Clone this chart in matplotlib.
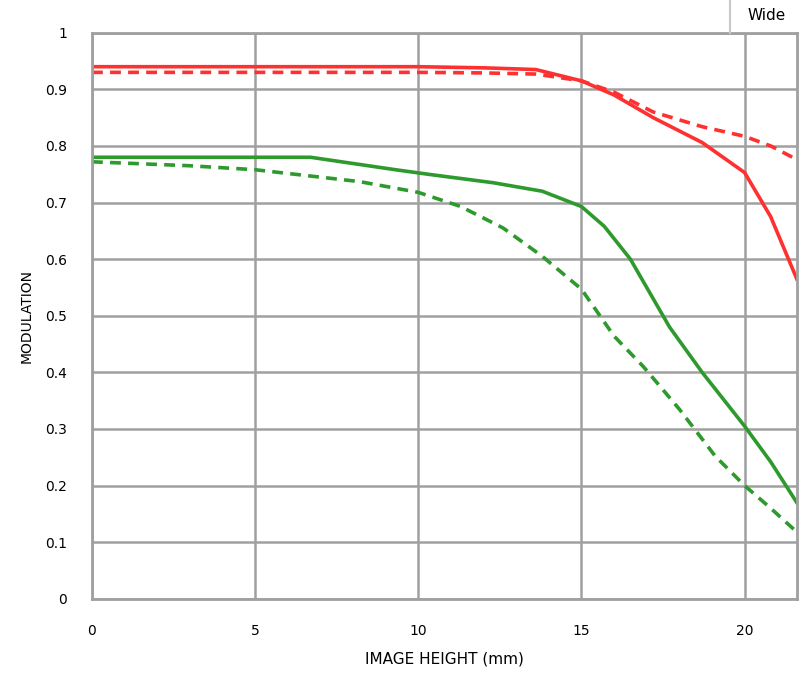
import numpy as np
from matplotlib import pyplot as plt
from matplotlib.lines import Line2D

# image height (mm) and MTF readings
x_red = [0, 2, 4, 6, 8, 10, 12, 13.6, 15, 16, 17.2, 18.7, 20, 20.8, 21.6]
red_solid = [0.94, 0.94, 0.94, 0.94, 0.94, 0.94, 0.938, 0.935, 0.915, 0.89, 0.85, 0.806, 0.753, 0.675, 0.565]
red_dash = [0.93, 0.93, 0.93, 0.93, 0.93, 0.93, 0.929, 0.927, 0.915, 0.895, 0.86, 0.834, 0.817, 0.80, 0.776]

x_green = [0, 2, 4, 6.7, 9.3, 10.3, 12.3, 13.8, 15, 15.7, 16.5, 17.7, 18.7, 20, 20.8, 21.6]
green_solid = [0.78, 0.78, 0.78, 0.78, 0.758, 0.75, 0.735, 0.72, 0.693, 0.658, 0.60, 0.48, 0.40, 0.305, 0.242, 0.17]

x_green_d = [0, 3, 5, 8.2, 10, 11.3, 12.6, 13.8, 15, 16, 16.9, 18, 19.1, 20, 20.8, 21.6]
green_dash = [0.772, 0.765, 0.758, 0.737, 0.718, 0.693, 0.655, 0.605, 0.547, 0.464, 0.41, 0.335, 0.252, 0.2, 0.16, 0.118]

xticks = [0, 5, 10, 15, 20]
yticks = [0, 0.1, 0.2, 0.3, 0.4, 0.5, 0.6, 0.7, 0.8, 0.9, 1]
ytick_labels = ["0", "0.1", "0.2", "0.3", "0.4", "0.5", "0.6", "0.7", "0.8", "0.9", "1"]

red = "#ff3030"
green = "#2e9a2e"

fig = plt.figure(figsize=(8, 6.82), dpi=100)
ax = fig.add_axes([0.115, 0.122, 0.881, 0.83])

ax.plot(x_red, red_solid, color=red, lw=2.6)
ax.plot(x_red, red_dash, color=red, lw=2.6, ls=(0, (3, 2)))
ax.plot(x_green, green_solid, color=green, lw=2.6)
ax.plot(x_green_d, green_dash, color=green, lw=2.6, ls=(0, (3, 2)))

ax.set_xlim(0, 21.6)
ax.set_ylim(0, 1)
ax.set_xticks(xticks)
ax.set_yticks(yticks)
ax.set_yticklabels(ytick_labels)
ax.tick_params(length=0, labelsize=10)
ax.tick_params(axis="x", pad=18)
ax.tick_params(axis="y", pad=18)
ax.grid(True, color="#a0a0a0", lw=1.8)
ax.set_axisbelow(True)
for s in ax.spines.values():
    s.set_color("#a0a0a0")
    s.set_linewidth(2)

ax.set_xlabel("IMAGE HEIGHT (mm)", size=11, labelpad=10)
ax.set_ylabel("MODULATION", size=10, labelpad=8)
fig.text(0.958, 0.977, "Wide", ha="center", va="center", size=11)
fig.add_artist(Line2D([0.913, 0.913], [0.952, 1.0], color="#c8c8c8", lw=1.5))

plt.savefig("out.png")
